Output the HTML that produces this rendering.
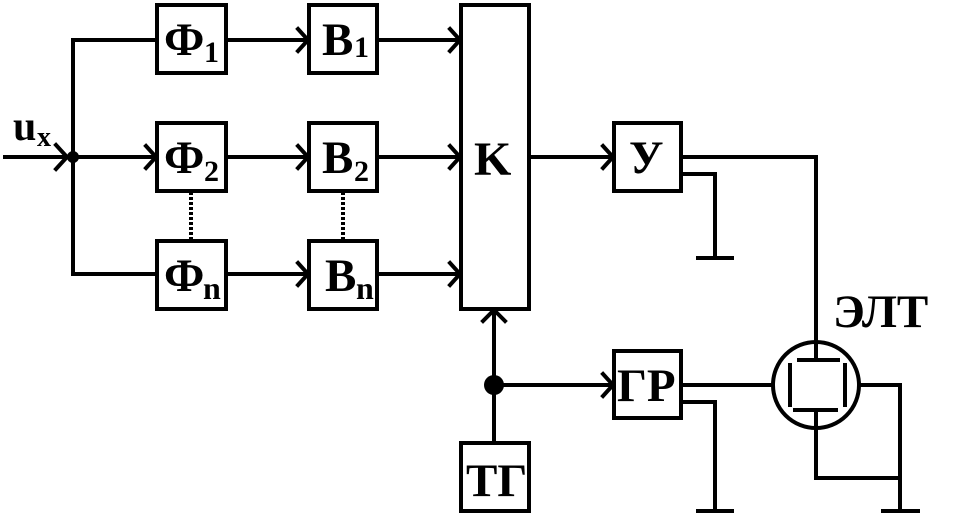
<!DOCTYPE html>
<html><head><meta charset="utf-8"><style>
html,body{margin:0;padding:0;background:#fff;}
svg{display:block;}
text{font-family:"Liberation Serif",serif;font-weight:bold;fill:#000;}
</style></head><body>
<svg width="967" height="517" viewBox="0 0 967 517" xmlns="http://www.w3.org/2000/svg">
<g fill="none" stroke="#000" stroke-width="4" stroke-linecap="square">
<rect x="157" y="5" width="69" height="68"/>
<rect x="157" y="123" width="69" height="68"/>
<rect x="157" y="241" width="69" height="68"/>
<rect x="309" y="5" width="68" height="68"/>
<rect x="309" y="123" width="68" height="68"/>
<rect x="309" y="241" width="68" height="68"/>
<rect x="461" y="5" width="68" height="304"/>
<rect x="614" y="123" width="67" height="68"/>
<rect x="614" y="351" width="67" height="67"/>
<rect x="461" y="443" width="68" height="68"/>
<path d="M5 157H157M73 40V274M73 40H157M73 274H157"/>
<path d="M56 145L67 157L56 169"/>
<path d="M146 146L156 157L146 168"/>
<path d="M226 40H309M226 157H309M226 274H309"/>
<path d="M298 29L308 40L298 51M298 146L308 157L298 168M298 263L308 274L298 285"/>
<path d="M377 40H461M377 157H461M377 274H461"/>
<path d="M450 29L460 40L450 51M450 146L460 157L450 168M450 263L460 274L450 285"/>
<path d="M529 157H614M603 146L613 157L603 168"/>
<path d="M681 157H816V345M681 174H715V258M698 258H732"/>
<path d="M494 443V310M483 321L494 310L505 321M494 385H614M603 374L613 385L603 396"/>
<path d="M681 385H773M681 402H715V511M698 511H732"/>
<circle cx="816" cy="385" r="43"/>
<path d="M816 345V360M799 360H838M795 410H836M816 410V478H900M790 365V405M845 365V405M859 385H900V511M883 511H918"/>
</g>
<g stroke="#000" stroke-width="4" stroke-dasharray="3,2">
<path d="M191 192V240M343 192V240"/>
</g>
<circle cx="73" cy="157" r="6" fill="#000"/>
<circle cx="494" cy="385" r="10" fill="#000"/>
<text x="164" y="55" font-size="47">Ф</text><text x="204" y="62" font-size="30">1</text>
<text x="164" y="173" font-size="47">Ф</text><text x="204" y="181" font-size="30">2</text>
<text x="164" y="291" font-size="47">Ф</text><text x="203" y="299" font-size="32">n</text>
<text x="322" y="55" font-size="47">B</text><text x="354" y="57" font-size="30">1</text>
<text x="322" y="173" font-size="47">B</text><text x="354" y="181" font-size="30">2</text>
<text x="325" y="291" font-size="47">B</text><text x="356" y="299" font-size="32">n</text>
<text x="474" y="175" font-size="48">K</text>
<text x="629" y="173" font-size="47">У</text>
<text x="617" y="401" font-size="47">ГР</text>
<text x="466" y="496" font-size="47">ТГ</text>
<text x="833" y="327" font-size="47">ЭЛТ</text>
<text x="13" y="140" font-size="42">u</text><text x="37" y="146" font-size="28">x</text>
</svg>
</body></html>
